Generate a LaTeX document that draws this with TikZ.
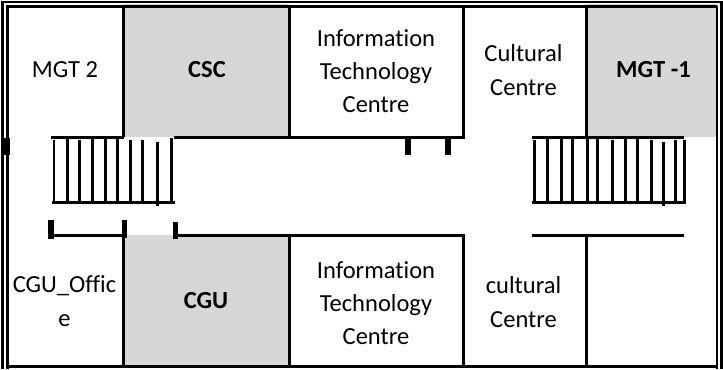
\documentclass[tikz,border=0pt]{standalone}
\usepackage{fontspec}
\setmainfont{Carlito}[Ligatures=NoCommon]
\definecolor{roomgray}{HTML}{D6D6D6}
\tikzset{
  wall/.style={draw=black,line width=2.25pt,line cap=butt},
  thinwall/.style={draw=black,line width=1.9pt,line cap=butt},
  tread/.style={draw=black,line width=1.9pt,line cap=butt},
  room/.style={font=\fontsize{18.4}{25}\selectfont,align=center,text=black,inner sep=0pt},
  broom/.style={room,font=\fontsize{18.4}{25}\selectfont\bfseries}
}
\begin{document}
\begin{tikzpicture}[x=0.75pt,y=-0.75pt]
\useasboundingbox (0,0) rectangle (723,369);
% gray rooms
\fill[roomgray] (124,4) rectangle (289,137);
\fill[roomgray] (587,4) rectangle (718,137);
\fill[roomgray] (124,235) rectangle (289,367);
% outer double frame
\draw[thinwall] (2.5,369) -- (2.5,2) -- (723,2);
\draw[thinwall] (7.5,369) -- (7.5,6.3) -- (717,6.3);
\draw[thinwall] (717,6.3) -- (717,369);
\draw[thinwall] (721.5,2) -- (721.5,369);
\draw[thinwall] (7.5,366.5) -- (717,366.5);
% walls
\draw[wall] (123.5,6) -- (123.5,137);
\draw[wall] (289.5,6) -- (289.5,137);
\draw[wall] (463.2,6) -- (463.2,138.5);
\draw[wall] (586.5,6) -- (586.5,137);
\draw[wall] (123.5,236) -- (123.5,367);
\draw[wall] (289.5,236) -- (289.5,367);
\draw[wall] (463.2,235) -- (463.2,367);
\draw[wall] (586.5,235) -- (586.5,367);
\draw[wall] (51,137.3) -- (124,137.3);
\draw[wall] (174,137.3) -- (464.7,137.3);
\draw[wall] (532,137.3) -- (684,137.3);
\draw[wall] (52,235.3) -- (125,235.3);
\draw[wall] (177,235.3) -- (464.7,235.3);
\draw[wall] (532,235.3) -- (684,235.3);
% left stairs
\draw[wall] (52,202.3) -- (175,202.3);
\foreach \x/\a/\b in {54/140/202,67.3/138/202,79.3/140/202,92.3/138/202,105.3/138/202,117.3/138/202,130.3/140/202,142.3/140/202,157.3/142/206,171.3/138/202}{
  \draw[tread] (\x,\a) -- (\x,\b);
}
% right stairs
\draw[wall] (532,202.3) -- (686,202.3);
\foreach \x/\a/\b in {534.3/140/202,547.7/138/202,561.7/138/202,572.7/138/202,587.3/138/202,597.3/138/202,612.3/140/202,625.3/138/202,637.3/138/202,651.3/140/202,663.3/142/206,675.3/140/202,684.3/140/202}{
  \draw[tread] (\x,\a) -- (\x,\b);
}
% posts
\fill (2,138) rectangle (10,155);
\fill (48,220) rectangle (54,239);
\fill (122,220) rectangle (127,238);
\fill (173,222) rectangle (178,239);
\fill (405,138) rectangle (411,155);
\fill (445,138) rectangle (451,155);
% labels
\node[room] (mgt2) at (65,70) {MGT 2};
\node[broom] (csc) at (207,70) {CSC};
\node[room] (itc1) at (376,71) {Information\\Technology\hspace{4.5pt}\\Centre};
\node[room] (cc1) at (523.5,70) {Cultural\\Centre};
\node[broom] (mgt1) at (653.5,70) {MGT -1};
\node[room] (cgo) at (64.5,301) {CGU\_Offic\\e};
\node[broom] (cgu) at (206,301) {CGU};
\node[room] (itc2) at (376,303) {Information\\Technology\hspace{4.5pt}\\Centre};
\node[room] (cc2) at (523.5,302) {cultural\\Centre};
\end{tikzpicture}
\end{document}
